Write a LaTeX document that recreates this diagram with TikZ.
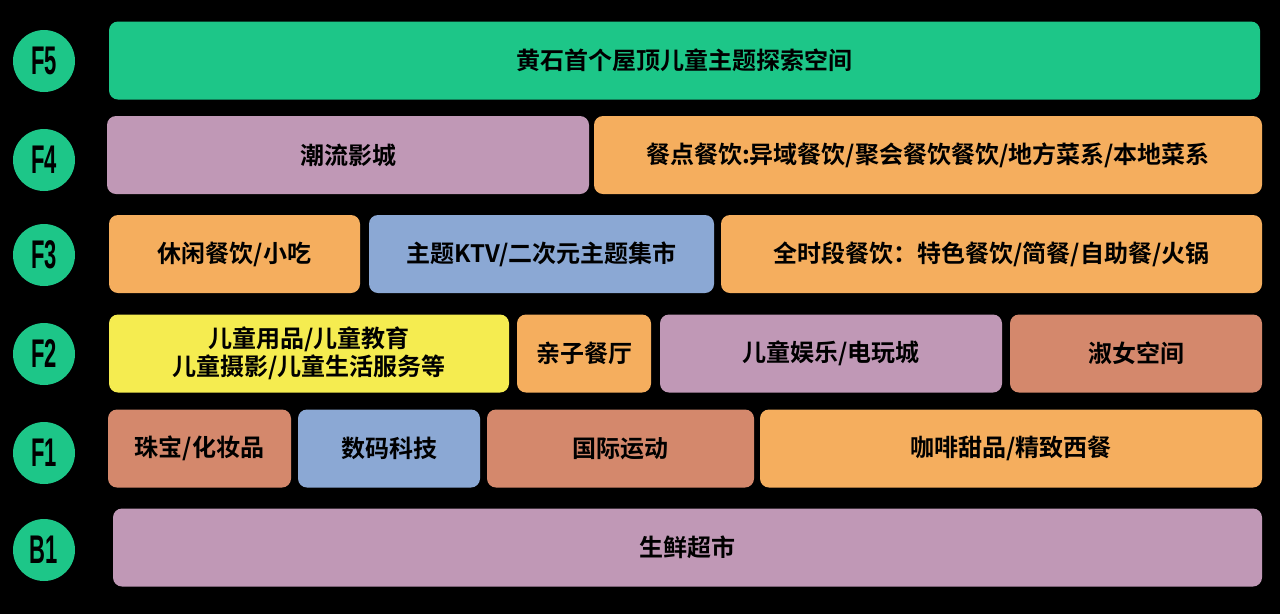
\documentclass[tikz,border=0pt]{standalone}
\usepackage{fontspec}
\setmainfont{Noto Sans CJK SC}[BoldFont={Noto Sans CJK SC Bold}]
\newfontfamily\floorfont{Liberation Sans}
\definecolor{mintgreen}{RGB}{29,198,136}
\definecolor{mauve}{RGB}{192,152,182}
\definecolor{apricot}{RGB}{245,174,94}
\definecolor{skyblue}{RGB}{139,168,212}
\definecolor{lemon}{RGB}{245,236,80}
\definecolor{terracotta}{RGB}{212,136,108}
\tikzset{
  shop/.style={rounded corners=9pt, fill=#1, minimum height=78pt, inner sep=0pt,
    align=center, font=\fontsize{24}{28}\selectfont\bfseries, text=black},
  floor/.style={circle, fill=mintgreen, minimum size=62pt, inner sep=0pt,
    font=\floorfont\fontsize{40}{40}\selectfont\bfseries, text=black}
}
\begin{document}
\begin{tikzpicture}[x=1pt,y=-1pt]
    \fill[black] (0,0) rectangle (1280,614);
    \useasboundingbox (0,0) rectangle (1280,614);
    % floor markers
    \node[floor] (f5) at (44,61) {\scalebox{0.55}[1]{F5}};
    \node[floor] (f4) at (44,160) {\scalebox{0.55}[1]{F4}};
    \node[floor] (f3) at (44,255) {\scalebox{0.55}[1]{F3}};
    \node[floor] (f2) at (44,354) {\scalebox{0.55}[1]{F2}};
    \node[floor] (f1) at (44,453) {\scalebox{0.55}[1]{F1}};
    \node[floor] (b1) at (44,550) {\scalebox{0.55}[1]{B1}};
    % F5
    \node[shop=mintgreen, minimum width=1151pt] (roof) at (684.5,60.5) {黄石首个屋顶儿童主题探索空间};
    % F4
    \node[shop=mauve, minimum width=482pt] (cinema) at (348,155) {潮流影城};
    \node[shop=apricot, minimum width=668pt] (dining) at (928,155) {餐点餐饮:异域餐饮/聚会餐饮餐饮/地方菜系/本地菜系};
    % F3
    \node[shop=apricot, minimum width=251pt] (snack) at (234.5,254) {休闲餐饮/小吃};
    \node[shop=skyblue, minimum width=345pt] (ktv) at (541.5,254) {主题KTV/二次元主题集市};
    \node[shop=apricot, minimum width=541pt] (allday) at (991.5,254) {全时段餐饮：特色餐饮/简餐/自助餐/火锅};
    % F2
    \node[shop=lemon, minimum width=400pt] (kids) at (309,353.5) {儿童用品/儿童教育\\儿童摄影/儿童生活服务等};
    \node[shop=apricot, minimum width=134pt] (family) at (584,353.5) {亲子餐厅};
    \node[shop=mauve, minimum width=342pt] (arcade) at (831,353.5) {儿童娱乐/电玩城};
    \node[shop=terracotta, minimum width=252pt] (lady) at (1136,353.5) {淑女空间};
    % F1
    \node[shop=terracotta, minimum width=183pt] (jewel) at (199.5,448.5) {珠宝/化妆品};
    \node[shop=skyblue, minimum width=182pt] (digital) at (389,448.5) {数码科技};
    \node[shop=terracotta, minimum width=267pt] (sport) at (620.5,448.5) {国际运动};
    \node[shop=apricot, minimum width=502pt] (cafe) at (1011,448.5) {咖啡甜品/精致西餐};
    % B1
    \node[shop=mauve, minimum width=1149pt] (market) at (687.5,547.5) {生鲜超市};
\end{tikzpicture}
\end{document}
